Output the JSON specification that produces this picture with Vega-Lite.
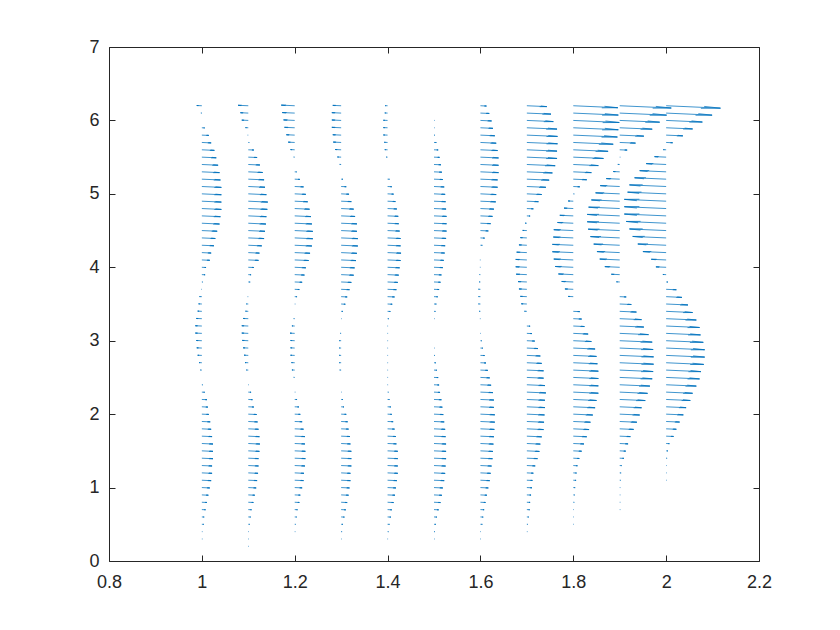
{
"$schema": "https://vega.github.io/schema/vega-lite/v6.json",
"width": 650, "height": 514,
"autosize": {"type": "none"},
"padding": {"left": 109, "top": 47, "right": 81, "bottom": 69},
"background": "white",
"config": {
 "view": {"stroke": "#262626", "strokeWidth": 1},
 "axis": {"domain": false, "grid": false, "tickColor": "#262626", "tickSize": -6, "tickWidth": 1, "labelFont": "Liberation Sans", "labelFontSize": 18, "labelColor": "#262626", "labelFlush": false, "labelOverlap": false, "title": null}
},
"data": {"values": [
{"x":1,"y":6.2,"u":-0.011,"v":0.003},{"x":1,"y":6.1,"u":-0.002,"v":0.001},{"x":1,"y":6,"u":0,"v":0},{"x":1,"y":5.9,"u":0.006,"v":-0.002},{"x":1,"y":5.8,"u":0.015,"v":-0.004},{"x":1,"y":5.7,"u":0.02,"v":-0.006},{"x":1,"y":5.6,"u":0.027,"v":-0.008},{"x":1,"y":5.5,"u":0.031,"v":-0.009},{"x":1,"y":5.4,"u":0.035,"v":-0.01},{"x":1,"y":5.3,"u":0.038,"v":-0.011},{"x":1,"y":5.2,"u":0.04,"v":-0.011},{"x":1,"y":5.1,"u":0.042,"v":-0.012},{"x":1,"y":5,"u":0.042,"v":-0.012},{"x":1,"y":4.9,"u":0.042,"v":-0.012},{"x":1,"y":4.8,"u":0.042,"v":-0.012},{"x":1,"y":4.7,"u":0.04,"v":-0.011},{"x":1,"y":4.6,"u":0.038,"v":-0.011},{"x":1,"y":4.5,"u":0.033,"v":-0.009},{"x":1,"y":4.4,"u":0.029,"v":-0.008},{"x":1,"y":4.3,"u":0.026,"v":-0.007},{"x":1,"y":4.2,"u":0.02,"v":-0.006},{"x":1,"y":4.1,"u":0.017,"v":-0.005},{"x":1,"y":4,"u":0.009,"v":-0.003},{"x":1,"y":3.9,"u":0.007,"v":-0.002},{"x":1,"y":3.8,"u":0.002,"v":-0.001},{"x":1,"y":3.7,"u":-0.001,"v":0},{"x":1,"y":3.6,"u":-0.005,"v":0.001},{"x":1,"y":3.5,"u":-0.007,"v":0.002},{"x":1,"y":3.4,"u":-0.009,"v":0.003},{"x":1,"y":3.3,"u":-0.012,"v":0.003},{"x":1,"y":3.2,"u":-0.014,"v":0.004},{"x":1,"y":3.1,"u":-0.014,"v":0.004},{"x":1,"y":3,"u":-0.012,"v":0.003},{"x":1,"y":2.9,"u":-0.011,"v":0.003},{"x":1,"y":2.8,"u":-0.009,"v":0.002},{"x":1,"y":2.7,"u":-0.006,"v":0.002},{"x":1,"y":2.6,"u":-0.003,"v":0.001},{"x":1,"y":2.5,"u":0,"v":0},{"x":1,"y":2.4,"u":0.002,"v":-0.001},{"x":1,"y":2.3,"u":0.006,"v":-0.002},{"x":1,"y":2.2,"u":0.011,"v":-0.003},{"x":1,"y":2.1,"u":0.013,"v":-0.004},{"x":1,"y":2,"u":0.015,"v":-0.004},{"x":1,"y":1.9,"u":0.018,"v":-0.005},{"x":1,"y":1.8,"u":0.02,"v":-0.006},{"x":1,"y":1.7,"u":0.022,"v":-0.006},{"x":1,"y":1.6,"u":0.024,"v":-0.007},{"x":1,"y":1.5,"u":0.024,"v":-0.007},{"x":1,"y":1.4,"u":0.024,"v":-0.007},{"x":1,"y":1.3,"u":0.022,"v":-0.006},{"x":1,"y":1.2,"u":0.022,"v":-0.006},{"x":1,"y":1.1,"u":0.02,"v":-0.006},{"x":1,"y":1,"u":0.017,"v":-0.005},{"x":1,"y":0.9,"u":0.014,"v":-0.004},{"x":1,"y":0.8,"u":0.011,"v":-0.003},{"x":1,"y":0.7,"u":0.008,"v":-0.002},{"x":1,"y":0.6,"u":0.005,"v":-0.001},{"x":1,"y":0.5,"u":0.004,"v":-0.001},{"x":1,"y":0.4,"u":0.001,"v":0},{"x":1,"y":0.3,"u":0.001,"v":0},{"x":1,"y":0.2,"u":0,"v":0},{"x":1,"y":0.1,"u":0,"v":0},{"x":1,"y":0,"u":0,"v":0},
{"x":1.1,"y":6.2,"u":-0.022,"v":0.006},{"x":1.1,"y":6.1,"u":-0.017,"v":0.005},{"x":1.1,"y":6,"u":-0.014,"v":0.004},{"x":1.1,"y":5.9,"u":-0.006,"v":0.002},{"x":1.1,"y":5.8,"u":-0.001,"v":0},{"x":1.1,"y":5.7,"u":0.002,"v":-0.001},{"x":1.1,"y":5.6,"u":0.012,"v":-0.003},{"x":1.1,"y":5.5,"u":0.019,"v":-0.005},{"x":1.1,"y":5.4,"u":0.025,"v":-0.007},{"x":1.1,"y":5.3,"u":0.031,"v":-0.009},{"x":1.1,"y":5.2,"u":0.034,"v":-0.009},{"x":1.1,"y":5.1,"u":0.036,"v":-0.01},{"x":1.1,"y":5,"u":0.039,"v":-0.011},{"x":1.1,"y":4.9,"u":0.042,"v":-0.012},{"x":1.1,"y":4.8,"u":0.041,"v":-0.011},{"x":1.1,"y":4.7,"u":0.039,"v":-0.011},{"x":1.1,"y":4.6,"u":0.038,"v":-0.011},{"x":1.1,"y":4.5,"u":0.036,"v":-0.01},{"x":1.1,"y":4.4,"u":0.034,"v":-0.009},{"x":1.1,"y":4.3,"u":0.029,"v":-0.008},{"x":1.1,"y":4.2,"u":0.024,"v":-0.007},{"x":1.1,"y":4.1,"u":0.022,"v":-0.006},{"x":1.1,"y":4,"u":0.012,"v":-0.003},{"x":1.1,"y":3.9,"u":0.006,"v":-0.002},{"x":1.1,"y":3.8,"u":0.004,"v":-0.001},{"x":1.1,"y":3.7,"u":0,"v":0},{"x":1.1,"y":3.6,"u":-0.001,"v":0},{"x":1.1,"y":3.5,"u":-0.004,"v":0.001},{"x":1.1,"y":3.4,"u":-0.006,"v":0.002},{"x":1.1,"y":3.3,"u":-0.011,"v":0.003},{"x":1.1,"y":3.2,"u":-0.014,"v":0.004},{"x":1.1,"y":3.1,"u":-0.014,"v":0.004},{"x":1.1,"y":3,"u":-0.013,"v":0.004},{"x":1.1,"y":2.9,"u":-0.011,"v":0.003},{"x":1.1,"y":2.8,"u":-0.009,"v":0.003},{"x":1.1,"y":2.7,"u":-0.007,"v":0.002},{"x":1.1,"y":2.6,"u":-0.004,"v":0.001},{"x":1.1,"y":2.5,"u":0,"v":0},{"x":1.1,"y":2.4,"u":0.001,"v":0},{"x":1.1,"y":2.3,"u":0.006,"v":-0.002},{"x":1.1,"y":2.2,"u":0.009,"v":-0.003},{"x":1.1,"y":2.1,"u":0.012,"v":-0.003},{"x":1.1,"y":2,"u":0.018,"v":-0.005},{"x":1.1,"y":1.9,"u":0.02,"v":-0.006},{"x":1.1,"y":1.8,"u":0.022,"v":-0.006},{"x":1.1,"y":1.7,"u":0.024,"v":-0.007},{"x":1.1,"y":1.6,"u":0.025,"v":-0.007},{"x":1.1,"y":1.5,"u":0.024,"v":-0.007},{"x":1.1,"y":1.4,"u":0.022,"v":-0.006},{"x":1.1,"y":1.3,"u":0.022,"v":-0.006},{"x":1.1,"y":1.2,"u":0.021,"v":-0.006},{"x":1.1,"y":1.1,"u":0.019,"v":-0.005},{"x":1.1,"y":1,"u":0.017,"v":-0.005},{"x":1.1,"y":0.9,"u":0.014,"v":-0.004},{"x":1.1,"y":0.8,"u":0.011,"v":-0.003},{"x":1.1,"y":0.7,"u":0.007,"v":-0.002},{"x":1.1,"y":0.6,"u":0.005,"v":-0.001},{"x":1.1,"y":0.5,"u":0.003,"v":-0.001},{"x":1.1,"y":0.4,"u":0.001,"v":0},{"x":1.1,"y":0.3,"u":0.001,"v":0},{"x":1.1,"y":0.2,"u":0.001,"v":0},{"x":1.1,"y":0.1,"u":0,"v":0},{"x":1.1,"y":0,"u":0,"v":0},
{"x":1.2,"y":6.2,"u":-0.029,"v":0.008},{"x":1.2,"y":6.1,"u":-0.027,"v":0.007},{"x":1.2,"y":6,"u":-0.024,"v":0.007},{"x":1.2,"y":5.9,"u":-0.022,"v":0.006},{"x":1.2,"y":5.8,"u":-0.018,"v":0.005},{"x":1.2,"y":5.7,"u":-0.014,"v":0.004},{"x":1.2,"y":5.6,"u":-0.009,"v":0.003},{"x":1.2,"y":5.5,"u":-0.002,"v":0.001},{"x":1.2,"y":5.4,"u":0,"v":0},{"x":1.2,"y":5.3,"u":0.004,"v":-0.001},{"x":1.2,"y":5.2,"u":0.011,"v":-0.003},{"x":1.2,"y":5.1,"u":0.019,"v":-0.005},{"x":1.2,"y":5,"u":0.024,"v":-0.007},{"x":1.2,"y":4.9,"u":0.028,"v":-0.008},{"x":1.2,"y":4.8,"u":0.032,"v":-0.009},{"x":1.2,"y":4.7,"u":0.035,"v":-0.01},{"x":1.2,"y":4.6,"u":0.037,"v":-0.01},{"x":1.2,"y":4.5,"u":0.039,"v":-0.011},{"x":1.2,"y":4.4,"u":0.039,"v":-0.011},{"x":1.2,"y":4.3,"u":0.037,"v":-0.01},{"x":1.2,"y":4.2,"u":0.033,"v":-0.009},{"x":1.2,"y":4.1,"u":0.03,"v":-0.008},{"x":1.2,"y":4,"u":0.024,"v":-0.007},{"x":1.2,"y":3.9,"u":0.021,"v":-0.006},{"x":1.2,"y":3.8,"u":0.016,"v":-0.004},{"x":1.2,"y":3.7,"u":0.01,"v":-0.003},{"x":1.2,"y":3.6,"u":0.005,"v":-0.001},{"x":1.2,"y":3.5,"u":0.001,"v":0},{"x":1.2,"y":3.4,"u":0,"v":0},{"x":1.2,"y":3.3,"u":-0.002,"v":0.001},{"x":1.2,"y":3.2,"u":-0.006,"v":0.002},{"x":1.2,"y":3.1,"u":-0.01,"v":0.003},{"x":1.2,"y":3,"u":-0.009,"v":0.003},{"x":1.2,"y":2.9,"u":-0.009,"v":0.003},{"x":1.2,"y":2.8,"u":-0.009,"v":0.002},{"x":1.2,"y":2.7,"u":-0.007,"v":0.002},{"x":1.2,"y":2.6,"u":-0.006,"v":0.002},{"x":1.2,"y":2.5,"u":-0.002,"v":0.001},{"x":1.2,"y":2.4,"u":0,"v":0},{"x":1.2,"y":2.3,"u":0.001,"v":0},{"x":1.2,"y":2.2,"u":0.005,"v":-0.001},{"x":1.2,"y":2.1,"u":0.009,"v":-0.002},{"x":1.2,"y":2,"u":0.012,"v":-0.003},{"x":1.2,"y":1.9,"u":0.016,"v":-0.004},{"x":1.2,"y":1.8,"u":0.019,"v":-0.005},{"x":1.2,"y":1.7,"u":0.022,"v":-0.006},{"x":1.2,"y":1.6,"u":0.022,"v":-0.006},{"x":1.2,"y":1.5,"u":0.023,"v":-0.006},{"x":1.2,"y":1.4,"u":0.023,"v":-0.006},{"x":1.2,"y":1.3,"u":0.022,"v":-0.006},{"x":1.2,"y":1.2,"u":0.02,"v":-0.006},{"x":1.2,"y":1.1,"u":0.019,"v":-0.005},{"x":1.2,"y":1,"u":0.016,"v":-0.004},{"x":1.2,"y":0.9,"u":0.012,"v":-0.003},{"x":1.2,"y":0.8,"u":0.01,"v":-0.003},{"x":1.2,"y":0.7,"u":0.006,"v":-0.002},{"x":1.2,"y":0.6,"u":0.004,"v":-0.001},{"x":1.2,"y":0.5,"u":0.002,"v":-0.001},{"x":1.2,"y":0.4,"u":0.001,"v":0},{"x":1.2,"y":0.3,"u":0,"v":0},{"x":1.2,"y":0.2,"u":0,"v":0},{"x":1.2,"y":0.1,"u":0,"v":0},{"x":1.2,"y":0,"u":0,"v":0},
{"x":1.3,"y":6.2,"u":-0.018,"v":0.005},{"x":1.3,"y":6.1,"u":-0.02,"v":0.006},{"x":1.3,"y":6,"u":-0.02,"v":0.006},{"x":1.3,"y":5.9,"u":-0.02,"v":0.006},{"x":1.3,"y":5.8,"u":-0.018,"v":0.005},{"x":1.3,"y":5.7,"u":-0.017,"v":0.005},{"x":1.3,"y":5.6,"u":-0.013,"v":0.004},{"x":1.3,"y":5.5,"u":-0.008,"v":0.002},{"x":1.3,"y":5.4,"u":-0.003,"v":0.001},{"x":1.3,"y":5.3,"u":0,"v":0},{"x":1.3,"y":5.2,"u":0.004,"v":-0.001},{"x":1.3,"y":5.1,"u":0.011,"v":-0.003},{"x":1.3,"y":5,"u":0.017,"v":-0.005},{"x":1.3,"y":4.9,"u":0.022,"v":-0.006},{"x":1.3,"y":4.8,"u":0.027,"v":-0.008},{"x":1.3,"y":4.7,"u":0.03,"v":-0.008},{"x":1.3,"y":4.6,"u":0.034,"v":-0.009},{"x":1.3,"y":4.5,"u":0.034,"v":-0.01},{"x":1.3,"y":4.4,"u":0.036,"v":-0.01},{"x":1.3,"y":4.3,"u":0.036,"v":-0.01},{"x":1.3,"y":4.2,"u":0.034,"v":-0.01},{"x":1.3,"y":4.1,"u":0.032,"v":-0.009},{"x":1.3,"y":4,"u":0.029,"v":-0.008},{"x":1.3,"y":3.9,"u":0.027,"v":-0.008},{"x":1.3,"y":3.8,"u":0.022,"v":-0.006},{"x":1.3,"y":3.7,"u":0.018,"v":-0.005},{"x":1.3,"y":3.6,"u":0.013,"v":-0.004},{"x":1.3,"y":3.5,"u":0.009,"v":-0.003},{"x":1.3,"y":3.4,"u":0.004,"v":-0.001},{"x":1.3,"y":3.3,"u":0.001,"v":0},{"x":1.3,"y":3.2,"u":0,"v":0},{"x":1.3,"y":3.1,"u":-0.002,"v":0.001},{"x":1.3,"y":3,"u":-0.004,"v":0.001},{"x":1.3,"y":2.9,"u":-0.004,"v":0.001},{"x":1.3,"y":2.8,"u":-0.004,"v":0.001},{"x":1.3,"y":2.7,"u":-0.004,"v":0.001},{"x":1.3,"y":2.6,"u":-0.003,"v":0.001},{"x":1.3,"y":2.5,"u":0,"v":0},{"x":1.3,"y":2.4,"u":0,"v":0},{"x":1.3,"y":2.3,"u":0.001,"v":0},{"x":1.3,"y":2.2,"u":0.004,"v":-0.001},{"x":1.3,"y":2.1,"u":0.006,"v":-0.002},{"x":1.3,"y":2,"u":0.011,"v":-0.003},{"x":1.3,"y":1.9,"u":0.014,"v":-0.004},{"x":1.3,"y":1.8,"u":0.016,"v":-0.004},{"x":1.3,"y":1.7,"u":0.019,"v":-0.005},{"x":1.3,"y":1.6,"u":0.02,"v":-0.006},{"x":1.3,"y":1.5,"u":0.022,"v":-0.006},{"x":1.3,"y":1.4,"u":0.022,"v":-0.006},{"x":1.3,"y":1.3,"u":0.022,"v":-0.006},{"x":1.3,"y":1.2,"u":0.02,"v":-0.006},{"x":1.3,"y":1.1,"u":0.02,"v":-0.006},{"x":1.3,"y":1,"u":0.018,"v":-0.005},{"x":1.3,"y":0.9,"u":0.016,"v":-0.004},{"x":1.3,"y":0.8,"u":0.013,"v":-0.004},{"x":1.3,"y":0.7,"u":0.01,"v":-0.003},{"x":1.3,"y":0.6,"u":0.007,"v":-0.002},{"x":1.3,"y":0.5,"u":0.004,"v":-0.001},{"x":1.3,"y":0.4,"u":0.002,"v":-0.001},{"x":1.3,"y":0.3,"u":0.001,"v":0},{"x":1.3,"y":0.2,"u":0,"v":0},{"x":1.3,"y":0.1,"u":0,"v":0},{"x":1.3,"y":0,"u":0,"v":0},
{"x":1.4,"y":6.2,"u":-0.005,"v":0.001},{"x":1.4,"y":6.1,"u":-0.006,"v":0.002},{"x":1.4,"y":6,"u":-0.009,"v":0.002},{"x":1.4,"y":5.9,"u":-0.009,"v":0.002},{"x":1.4,"y":5.8,"u":-0.009,"v":0.002},{"x":1.4,"y":5.7,"u":-0.007,"v":0.002},{"x":1.4,"y":5.6,"u":-0.006,"v":0.002},{"x":1.4,"y":5.5,"u":-0.003,"v":0.001},{"x":1.4,"y":5.4,"u":0,"v":0},{"x":1.4,"y":5.3,"u":0,"v":0},{"x":1.4,"y":5.2,"u":0.004,"v":-0.001},{"x":1.4,"y":5.1,"u":0.009,"v":-0.003},{"x":1.4,"y":5,"u":0.013,"v":-0.004},{"x":1.4,"y":4.9,"u":0.017,"v":-0.005},{"x":1.4,"y":4.8,"u":0.02,"v":-0.006},{"x":1.4,"y":4.7,"u":0.023,"v":-0.006},{"x":1.4,"y":4.6,"u":0.024,"v":-0.007},{"x":1.4,"y":4.5,"u":0.026,"v":-0.007},{"x":1.4,"y":4.4,"u":0.028,"v":-0.008},{"x":1.4,"y":4.3,"u":0.028,"v":-0.008},{"x":1.4,"y":4.2,"u":0.029,"v":-0.008},{"x":1.4,"y":4.1,"u":0.028,"v":-0.008},{"x":1.4,"y":4,"u":0.026,"v":-0.007},{"x":1.4,"y":3.9,"u":0.024,"v":-0.007},{"x":1.4,"y":3.8,"u":0.022,"v":-0.006},{"x":1.4,"y":3.7,"u":0.019,"v":-0.005},{"x":1.4,"y":3.6,"u":0.015,"v":-0.004},{"x":1.4,"y":3.5,"u":0.01,"v":-0.003},{"x":1.4,"y":3.4,"u":0.006,"v":-0.002},{"x":1.4,"y":3.3,"u":0.003,"v":-0.001},{"x":1.4,"y":3.2,"u":0.001,"v":0},{"x":1.4,"y":3.1,"u":0.001,"v":0},{"x":1.4,"y":3,"u":0.001,"v":0},{"x":1.4,"y":2.9,"u":0.001,"v":0},{"x":1.4,"y":2.8,"u":0.001,"v":0},{"x":1.4,"y":2.7,"u":0.001,"v":0},{"x":1.4,"y":2.6,"u":0.001,"v":0},{"x":1.4,"y":2.5,"u":0.001,"v":0},{"x":1.4,"y":2.4,"u":0.001,"v":0},{"x":1.4,"y":2.3,"u":0.002,"v":-0.001},{"x":1.4,"y":2.2,"u":0.004,"v":-0.001},{"x":1.4,"y":2.1,"u":0.007,"v":-0.002},{"x":1.4,"y":2,"u":0.009,"v":-0.003},{"x":1.4,"y":1.9,"u":0.012,"v":-0.003},{"x":1.4,"y":1.8,"u":0.015,"v":-0.004},{"x":1.4,"y":1.7,"u":0.018,"v":-0.005},{"x":1.4,"y":1.6,"u":0.019,"v":-0.005},{"x":1.4,"y":1.5,"u":0.022,"v":-0.006},{"x":1.4,"y":1.4,"u":0.022,"v":-0.006},{"x":1.4,"y":1.3,"u":0.022,"v":-0.006},{"x":1.4,"y":1.2,"u":0.022,"v":-0.006},{"x":1.4,"y":1.1,"u":0.02,"v":-0.006},{"x":1.4,"y":1,"u":0.018,"v":-0.005},{"x":1.4,"y":0.9,"u":0.016,"v":-0.004},{"x":1.4,"y":0.8,"u":0.013,"v":-0.004},{"x":1.4,"y":0.7,"u":0.009,"v":-0.003},{"x":1.4,"y":0.6,"u":0.007,"v":-0.002},{"x":1.4,"y":0.5,"u":0.004,"v":-0.001},{"x":1.4,"y":0.4,"u":0.002,"v":-0.001},{"x":1.4,"y":0.3,"u":0.001,"v":0},{"x":1.4,"y":0.2,"u":0,"v":0},{"x":1.4,"y":0.1,"u":0,"v":0},{"x":1.4,"y":0,"u":0,"v":0},
{"x":1.5,"y":6.2,"u":0,"v":0},{"x":1.5,"y":6.1,"u":0,"v":0},{"x":1.5,"y":6,"u":0.001,"v":0},{"x":1.5,"y":5.9,"u":0.001,"v":0},{"x":1.5,"y":5.8,"u":0.002,"v":-0.001},{"x":1.5,"y":5.7,"u":0.005,"v":-0.001},{"x":1.5,"y":5.6,"u":0.009,"v":-0.002},{"x":1.5,"y":5.5,"u":0.012,"v":-0.003},{"x":1.5,"y":5.4,"u":0.015,"v":-0.004},{"x":1.5,"y":5.3,"u":0.017,"v":-0.005},{"x":1.5,"y":5.2,"u":0.019,"v":-0.005},{"x":1.5,"y":5.1,"u":0.022,"v":-0.006},{"x":1.5,"y":5,"u":0.024,"v":-0.007},{"x":1.5,"y":4.9,"u":0.025,"v":-0.007},{"x":1.5,"y":4.8,"u":0.026,"v":-0.007},{"x":1.5,"y":4.7,"u":0.027,"v":-0.007},{"x":1.5,"y":4.6,"u":0.027,"v":-0.007},{"x":1.5,"y":4.5,"u":0.027,"v":-0.007},{"x":1.5,"y":4.4,"u":0.026,"v":-0.007},{"x":1.5,"y":4.3,"u":0.024,"v":-0.007},{"x":1.5,"y":4.2,"u":0.023,"v":-0.006},{"x":1.5,"y":4.1,"u":0.021,"v":-0.006},{"x":1.5,"y":4,"u":0.019,"v":-0.005},{"x":1.5,"y":3.9,"u":0.016,"v":-0.004},{"x":1.5,"y":3.8,"u":0.014,"v":-0.004},{"x":1.5,"y":3.7,"u":0.011,"v":-0.003},{"x":1.5,"y":3.6,"u":0.008,"v":-0.002},{"x":1.5,"y":3.5,"u":0.005,"v":-0.001},{"x":1.5,"y":3.4,"u":0.003,"v":-0.001},{"x":1.5,"y":3.3,"u":0.001,"v":0},{"x":1.5,"y":3.2,"u":0,"v":0},{"x":1.5,"y":3.1,"u":0,"v":0},{"x":1.5,"y":3,"u":0,"v":0},{"x":1.5,"y":2.9,"u":0.001,"v":0},{"x":1.5,"y":2.8,"u":0.002,"v":-0.001},{"x":1.5,"y":2.7,"u":0.004,"v":-0.001},{"x":1.5,"y":2.6,"u":0.006,"v":-0.002},{"x":1.5,"y":2.5,"u":0.009,"v":-0.002},{"x":1.5,"y":2.4,"u":0.011,"v":-0.003},{"x":1.5,"y":2.3,"u":0.013,"v":-0.004},{"x":1.5,"y":2.2,"u":0.016,"v":-0.004},{"x":1.5,"y":2.1,"u":0.018,"v":-0.005},{"x":1.5,"y":2,"u":0.02,"v":-0.006},{"x":1.5,"y":1.9,"u":0.022,"v":-0.006},{"x":1.5,"y":1.8,"u":0.024,"v":-0.007},{"x":1.5,"y":1.7,"u":0.025,"v":-0.007},{"x":1.5,"y":1.6,"u":0.026,"v":-0.007},{"x":1.5,"y":1.5,"u":0.026,"v":-0.007},{"x":1.5,"y":1.4,"u":0.026,"v":-0.007},{"x":1.5,"y":1.3,"u":0.025,"v":-0.007},{"x":1.5,"y":1.2,"u":0.024,"v":-0.007},{"x":1.5,"y":1.1,"u":0.022,"v":-0.006},{"x":1.5,"y":1,"u":0.019,"v":-0.005},{"x":1.5,"y":0.9,"u":0.017,"v":-0.005},{"x":1.5,"y":0.8,"u":0.014,"v":-0.004},{"x":1.5,"y":0.7,"u":0.01,"v":-0.003},{"x":1.5,"y":0.6,"u":0.006,"v":-0.002},{"x":1.5,"y":0.5,"u":0.004,"v":-0.001},{"x":1.5,"y":0.4,"u":0.002,"v":-0.001},{"x":1.5,"y":0.3,"u":0.001,"v":0},{"x":1.5,"y":0.2,"u":0,"v":0},{"x":1.5,"y":0.1,"u":0,"v":0},{"x":1.5,"y":0,"u":0,"v":0},
{"x":1.6,"y":6.2,"u":0.013,"v":-0.004},{"x":1.6,"y":6.1,"u":0.019,"v":-0.005},{"x":1.6,"y":6,"u":0.024,"v":-0.007},{"x":1.6,"y":5.9,"u":0.027,"v":-0.008},{"x":1.6,"y":5.8,"u":0.031,"v":-0.009},{"x":1.6,"y":5.7,"u":0.034,"v":-0.01},{"x":1.6,"y":5.6,"u":0.037,"v":-0.01},{"x":1.6,"y":5.5,"u":0.039,"v":-0.011},{"x":1.6,"y":5.4,"u":0.039,"v":-0.011},{"x":1.6,"y":5.3,"u":0.039,"v":-0.011},{"x":1.6,"y":5.2,"u":0.037,"v":-0.01},{"x":1.6,"y":5.1,"u":0.037,"v":-0.01},{"x":1.6,"y":5,"u":0.034,"v":-0.01},{"x":1.6,"y":4.9,"u":0.033,"v":-0.009},{"x":1.6,"y":4.8,"u":0.029,"v":-0.008},{"x":1.6,"y":4.7,"u":0.026,"v":-0.007},{"x":1.6,"y":4.6,"u":0.022,"v":-0.006},{"x":1.6,"y":4.5,"u":0.017,"v":-0.005},{"x":1.6,"y":4.4,"u":0.009,"v":-0.003},{"x":1.6,"y":4.3,"u":0.004,"v":-0.001},{"x":1.6,"y":4.2,"u":0,"v":0},{"x":1.6,"y":4.1,"u":-0.001,"v":0},{"x":1.6,"y":4,"u":-0.001,"v":0},{"x":1.6,"y":3.9,"u":-0.002,"v":0.001},{"x":1.6,"y":3.8,"u":-0.003,"v":0.001},{"x":1.6,"y":3.7,"u":-0.004,"v":0.001},{"x":1.6,"y":3.6,"u":-0.004,"v":0.001},{"x":1.6,"y":3.5,"u":-0.004,"v":0.001},{"x":1.6,"y":3.4,"u":-0.003,"v":0.001},{"x":1.6,"y":3.3,"u":-0.001,"v":0},{"x":1.6,"y":3.2,"u":0,"v":0},{"x":1.6,"y":3.1,"u":0.001,"v":0},{"x":1.6,"y":3,"u":0.003,"v":-0.001},{"x":1.6,"y":2.9,"u":0.005,"v":-0.001},{"x":1.6,"y":2.8,"u":0.009,"v":-0.002},{"x":1.6,"y":2.7,"u":0.012,"v":-0.003},{"x":1.6,"y":2.6,"u":0.016,"v":-0.004},{"x":1.6,"y":2.5,"u":0.02,"v":-0.006},{"x":1.6,"y":2.4,"u":0.023,"v":-0.006},{"x":1.6,"y":2.3,"u":0.027,"v":-0.007},{"x":1.6,"y":2.2,"u":0.029,"v":-0.008},{"x":1.6,"y":2.1,"u":0.029,"v":-0.008},{"x":1.6,"y":2,"u":0.031,"v":-0.009},{"x":1.6,"y":1.9,"u":0.031,"v":-0.009},{"x":1.6,"y":1.8,"u":0.03,"v":-0.008},{"x":1.6,"y":1.7,"u":0.029,"v":-0.008},{"x":1.6,"y":1.6,"u":0.028,"v":-0.008},{"x":1.6,"y":1.5,"u":0.027,"v":-0.008},{"x":1.6,"y":1.4,"u":0.026,"v":-0.007},{"x":1.6,"y":1.3,"u":0.024,"v":-0.007},{"x":1.6,"y":1.2,"u":0.022,"v":-0.006},{"x":1.6,"y":1.1,"u":0.02,"v":-0.006},{"x":1.6,"y":1,"u":0.017,"v":-0.005},{"x":1.6,"y":0.9,"u":0.014,"v":-0.004},{"x":1.6,"y":0.8,"u":0.011,"v":-0.003},{"x":1.6,"y":0.7,"u":0.008,"v":-0.002},{"x":1.6,"y":0.6,"u":0.006,"v":-0.002},{"x":1.6,"y":0.5,"u":0.004,"v":-0.001},{"x":1.6,"y":0.4,"u":0.001,"v":0},{"x":1.6,"y":0.3,"u":0.001,"v":0},{"x":1.6,"y":0.2,"u":0,"v":0},{"x":1.6,"y":0.1,"u":0,"v":0},{"x":1.6,"y":0,"u":0,"v":0},
{"x":1.7,"y":6.2,"u":0.043,"v":-0.012},{"x":1.7,"y":6.1,"u":0.052,"v":-0.014},{"x":1.7,"y":6,"u":0.057,"v":-0.016},{"x":1.7,"y":5.9,"u":0.065,"v":-0.018},{"x":1.7,"y":5.8,"u":0.066,"v":-0.018},{"x":1.7,"y":5.7,"u":0.066,"v":-0.018},{"x":1.7,"y":5.6,"u":0.065,"v":-0.018},{"x":1.7,"y":5.5,"u":0.065,"v":-0.018},{"x":1.7,"y":5.4,"u":0.061,"v":-0.017},{"x":1.7,"y":5.3,"u":0.055,"v":-0.015},{"x":1.7,"y":5.2,"u":0.048,"v":-0.013},{"x":1.7,"y":5.1,"u":0.041,"v":-0.011},{"x":1.7,"y":5,"u":0.032,"v":-0.009},{"x":1.7,"y":4.9,"u":0.025,"v":-0.007},{"x":1.7,"y":4.8,"u":0.014,"v":-0.004},{"x":1.7,"y":4.7,"u":0.007,"v":-0.002},{"x":1.7,"y":4.6,"u":-0.004,"v":0.001},{"x":1.7,"y":4.5,"u":-0.009,"v":0.002},{"x":1.7,"y":4.4,"u":-0.014,"v":0.004},{"x":1.7,"y":4.3,"u":-0.017,"v":0.005},{"x":1.7,"y":4.2,"u":-0.022,"v":0.006},{"x":1.7,"y":4.1,"u":-0.024,"v":0.007},{"x":1.7,"y":4,"u":-0.024,"v":0.007},{"x":1.7,"y":3.9,"u":-0.023,"v":0.006},{"x":1.7,"y":3.8,"u":-0.019,"v":0.005},{"x":1.7,"y":3.7,"u":-0.017,"v":0.005},{"x":1.7,"y":3.6,"u":-0.014,"v":0.004},{"x":1.7,"y":3.5,"u":-0.012,"v":0.003},{"x":1.7,"y":3.4,"u":-0.005,"v":0.001},{"x":1.7,"y":3.3,"u":0,"v":0},{"x":1.7,"y":3.2,"u":0.007,"v":-0.002},{"x":1.7,"y":3.1,"u":0.011,"v":-0.003},{"x":1.7,"y":3,"u":0.017,"v":-0.005},{"x":1.7,"y":2.9,"u":0.024,"v":-0.007},{"x":1.7,"y":2.8,"u":0.029,"v":-0.008},{"x":1.7,"y":2.7,"u":0.032,"v":-0.009},{"x":1.7,"y":2.6,"u":0.036,"v":-0.01},{"x":1.7,"y":2.5,"u":0.036,"v":-0.01},{"x":1.7,"y":2.4,"u":0.039,"v":-0.011},{"x":1.7,"y":2.3,"u":0.041,"v":-0.011},{"x":1.7,"y":2.2,"u":0.039,"v":-0.011},{"x":1.7,"y":2.1,"u":0.039,"v":-0.011},{"x":1.7,"y":2,"u":0.038,"v":-0.011},{"x":1.7,"y":1.9,"u":0.037,"v":-0.01},{"x":1.7,"y":1.8,"u":0.036,"v":-0.01},{"x":1.7,"y":1.7,"u":0.032,"v":-0.009},{"x":1.7,"y":1.6,"u":0.029,"v":-0.008},{"x":1.7,"y":1.5,"u":0.027,"v":-0.008},{"x":1.7,"y":1.4,"u":0.023,"v":-0.006},{"x":1.7,"y":1.3,"u":0.018,"v":-0.005},{"x":1.7,"y":1.2,"u":0.014,"v":-0.004},{"x":1.7,"y":1.1,"u":0.012,"v":-0.003},{"x":1.7,"y":1,"u":0.011,"v":-0.003},{"x":1.7,"y":0.9,"u":0.009,"v":-0.002},{"x":1.7,"y":0.8,"u":0.007,"v":-0.002},{"x":1.7,"y":0.7,"u":0.006,"v":-0.002},{"x":1.7,"y":0.6,"u":0.004,"v":-0.001},{"x":1.7,"y":0.5,"u":0.002,"v":-0.001},{"x":1.7,"y":0.4,"u":0.001,"v":0},{"x":1.7,"y":0.3,"u":0,"v":0},{"x":1.7,"y":0.2,"u":0,"v":0},{"x":1.7,"y":0.1,"u":0,"v":0},{"x":1.7,"y":0,"u":0,"v":0},
{"x":1.8,"y":6.2,"u":0.096,"v":-0.027},{"x":1.8,"y":6.1,"u":0.097,"v":-0.027},{"x":1.8,"y":6,"u":0.099,"v":-0.028},{"x":1.8,"y":5.9,"u":0.097,"v":-0.027},{"x":1.8,"y":5.8,"u":0.095,"v":-0.026},{"x":1.8,"y":5.7,"u":0.086,"v":-0.024},{"x":1.8,"y":5.6,"u":0.075,"v":-0.021},{"x":1.8,"y":5.5,"u":0.065,"v":-0.018},{"x":1.8,"y":5.4,"u":0.054,"v":-0.015},{"x":1.8,"y":5.3,"u":0.039,"v":-0.011},{"x":1.8,"y":5.2,"u":0.029,"v":-0.008},{"x":1.8,"y":5.1,"u":0.014,"v":-0.004},{"x":1.8,"y":5,"u":0.002,"v":-0.001},{"x":1.8,"y":4.9,"u":-0.011,"v":0.003},{"x":1.8,"y":4.8,"u":-0.02,"v":0.006},{"x":1.8,"y":4.7,"u":-0.029,"v":0.008},{"x":1.8,"y":4.6,"u":-0.034,"v":0.01},{"x":1.8,"y":4.5,"u":-0.042,"v":0.012},{"x":1.8,"y":4.4,"u":-0.043,"v":0.012},{"x":1.8,"y":4.3,"u":-0.045,"v":0.012},{"x":1.8,"y":4.2,"u":-0.045,"v":0.012},{"x":1.8,"y":4.1,"u":-0.042,"v":0.012},{"x":1.8,"y":4,"u":-0.039,"v":0.011},{"x":1.8,"y":3.9,"u":-0.032,"v":0.009},{"x":1.8,"y":3.8,"u":-0.025,"v":0.007},{"x":1.8,"y":3.7,"u":-0.018,"v":0.005},{"x":1.8,"y":3.6,"u":-0.011,"v":0.003},{"x":1.8,"y":3.5,"u":0,"v":0},{"x":1.8,"y":3.4,"u":0.014,"v":-0.004},{"x":1.8,"y":3.3,"u":0.018,"v":-0.005},{"x":1.8,"y":3.2,"u":0.024,"v":-0.007},{"x":1.8,"y":3.1,"u":0.032,"v":-0.009},{"x":1.8,"y":3,"u":0.039,"v":-0.011},{"x":1.8,"y":2.9,"u":0.047,"v":-0.013},{"x":1.8,"y":2.8,"u":0.05,"v":-0.014},{"x":1.8,"y":2.7,"u":0.052,"v":-0.014},{"x":1.8,"y":2.6,"u":0.054,"v":-0.015},{"x":1.8,"y":2.5,"u":0.054,"v":-0.015},{"x":1.8,"y":2.4,"u":0.054,"v":-0.015},{"x":1.8,"y":2.3,"u":0.054,"v":-0.015},{"x":1.8,"y":2.2,"u":0.05,"v":-0.014},{"x":1.8,"y":2.1,"u":0.047,"v":-0.013},{"x":1.8,"y":2,"u":0.042,"v":-0.012},{"x":1.8,"y":1.9,"u":0.037,"v":-0.01},{"x":1.8,"y":1.8,"u":0.034,"v":-0.01},{"x":1.8,"y":1.7,"u":0.029,"v":-0.008},{"x":1.8,"y":1.6,"u":0.023,"v":-0.006},{"x":1.8,"y":1.5,"u":0.018,"v":-0.005},{"x":1.8,"y":1.4,"u":0.013,"v":-0.004},{"x":1.8,"y":1.3,"u":0.009,"v":-0.003},{"x":1.8,"y":1.2,"u":0.007,"v":-0.002},{"x":1.8,"y":1.1,"u":0.006,"v":-0.002},{"x":1.8,"y":1,"u":0.004,"v":-0.001},{"x":1.8,"y":0.9,"u":0.003,"v":-0.001},{"x":1.8,"y":0.8,"u":0.002,"v":-0.001},{"x":1.8,"y":0.7,"u":0.001,"v":0},{"x":1.8,"y":0.6,"u":0.001,"v":0},{"x":1.8,"y":0.5,"u":0.001,"v":0},{"x":1.8,"y":0.4,"u":0,"v":0},{"x":1.8,"y":0.3,"u":0,"v":0},{"x":1.8,"y":0.2,"u":0,"v":0},{"x":1.8,"y":0.1,"u":0,"v":0},{"x":1.8,"y":0,"u":0,"v":0},
{"x":1.9,"y":6.2,"u":0.111,"v":-0.031},{"x":1.9,"y":6.1,"u":0.101,"v":-0.028},{"x":1.9,"y":6,"u":0.086,"v":-0.024},{"x":1.9,"y":5.9,"u":0.07,"v":-0.019},{"x":1.9,"y":5.8,"u":0.052,"v":-0.014},{"x":1.9,"y":5.7,"u":0.034,"v":-0.009},{"x":1.9,"y":5.6,"u":0.016,"v":-0.004},{"x":1.9,"y":5.5,"u":0.001,"v":0},{"x":1.9,"y":5.4,"u":-0.004,"v":0.001},{"x":1.9,"y":5.3,"u":-0.014,"v":0.004},{"x":1.9,"y":5.2,"u":-0.029,"v":0.008},{"x":1.9,"y":5.1,"u":-0.042,"v":0.012},{"x":1.9,"y":5,"u":-0.052,"v":0.014},{"x":1.9,"y":4.9,"u":-0.061,"v":0.017},{"x":1.9,"y":4.8,"u":-0.067,"v":0.019},{"x":1.9,"y":4.7,"u":-0.07,"v":0.02},{"x":1.9,"y":4.6,"u":-0.07,"v":0.02},{"x":1.9,"y":4.5,"u":-0.068,"v":0.019},{"x":1.9,"y":4.4,"u":-0.063,"v":0.018},{"x":1.9,"y":4.3,"u":-0.056,"v":0.016},{"x":1.9,"y":4.2,"u":-0.049,"v":0.014},{"x":1.9,"y":4.1,"u":-0.043,"v":0.012},{"x":1.9,"y":4,"u":-0.032,"v":0.009},{"x":1.9,"y":3.9,"u":-0.018,"v":0.005},{"x":1.9,"y":3.8,"u":-0.007,"v":0.002},{"x":1.9,"y":3.7,"u":0,"v":0},{"x":1.9,"y":3.6,"u":0.014,"v":-0.004},{"x":1.9,"y":3.5,"u":0.025,"v":-0.007},{"x":1.9,"y":3.4,"u":0.036,"v":-0.01},{"x":1.9,"y":3.3,"u":0.047,"v":-0.013},{"x":1.9,"y":3.2,"u":0.052,"v":-0.014},{"x":1.9,"y":3.1,"u":0.062,"v":-0.017},{"x":1.9,"y":3,"u":0.07,"v":-0.019},{"x":1.9,"y":2.9,"u":0.072,"v":-0.02},{"x":1.9,"y":2.8,"u":0.073,"v":-0.02},{"x":1.9,"y":2.7,"u":0.073,"v":-0.02},{"x":1.9,"y":2.6,"u":0.072,"v":-0.02},{"x":1.9,"y":2.5,"u":0.07,"v":-0.019},{"x":1.9,"y":2.4,"u":0.065,"v":-0.018},{"x":1.9,"y":2.3,"u":0.06,"v":-0.017},{"x":1.9,"y":2.2,"u":0.055,"v":-0.015},{"x":1.9,"y":2.1,"u":0.047,"v":-0.013},{"x":1.9,"y":2,"u":0.043,"v":-0.012},{"x":1.9,"y":1.9,"u":0.037,"v":-0.01},{"x":1.9,"y":1.8,"u":0.03,"v":-0.008},{"x":1.9,"y":1.7,"u":0.023,"v":-0.006},{"x":1.9,"y":1.6,"u":0.018,"v":-0.005},{"x":1.9,"y":1.5,"u":0.013,"v":-0.004},{"x":1.9,"y":1.4,"u":0.009,"v":-0.002},{"x":1.9,"y":1.3,"u":0.004,"v":-0.001},{"x":1.9,"y":1.2,"u":0.003,"v":-0.001},{"x":1.9,"y":1.1,"u":0.002,"v":-0.001},{"x":1.9,"y":1,"u":0.001,"v":0},{"x":1.9,"y":0.9,"u":0.001,"v":0},{"x":1.9,"y":0.8,"u":0.001,"v":0},{"x":1.9,"y":0.7,"u":0.001,"v":0},{"x":1.9,"y":0.6,"u":0,"v":0},{"x":1.9,"y":0.5,"u":0,"v":0},{"x":1.9,"y":0.4,"u":0,"v":0},{"x":1.9,"y":0.3,"u":0,"v":0},{"x":1.9,"y":0.2,"u":0,"v":0},{"x":1.9,"y":0.1,"u":0,"v":0},{"x":1.9,"y":0,"u":0,"v":0},
{"x":2,"y":6.2,"u":0.117,"v":-0.033},{"x":2,"y":6.1,"u":0.099,"v":-0.028},{"x":2,"y":6,"u":0.078,"v":-0.022},{"x":2,"y":5.9,"u":0.057,"v":-0.016},{"x":2,"y":5.8,"u":0.036,"v":-0.01},{"x":2,"y":5.7,"u":0.014,"v":-0.004},{"x":2,"y":5.6,"u":-0.006,"v":0.002},{"x":2,"y":5.5,"u":-0.025,"v":0.007},{"x":2,"y":5.4,"u":-0.043,"v":0.012},{"x":2,"y":5.3,"u":-0.057,"v":0.016},{"x":2,"y":5.2,"u":-0.068,"v":0.019},{"x":2,"y":5.1,"u":-0.079,"v":0.022},{"x":2,"y":5,"u":-0.083,"v":0.023},{"x":2,"y":4.9,"u":-0.09,"v":0.025},{"x":2,"y":4.8,"u":-0.09,"v":0.025},{"x":2,"y":4.7,"u":-0.09,"v":0.025},{"x":2,"y":4.6,"u":-0.086,"v":0.024},{"x":2,"y":4.5,"u":-0.079,"v":0.022},{"x":2,"y":4.4,"u":-0.072,"v":0.02},{"x":2,"y":4.3,"u":-0.061,"v":0.017},{"x":2,"y":4.2,"u":-0.05,"v":0.014},{"x":2,"y":4.1,"u":-0.032,"v":0.009},{"x":2,"y":4,"u":-0.022,"v":0.006},{"x":2,"y":3.9,"u":-0.007,"v":0.002},{"x":2,"y":3.8,"u":0.004,"v":-0.001},{"x":2,"y":3.7,"u":0.022,"v":-0.006},{"x":2,"y":3.6,"u":0.034,"v":-0.01},{"x":2,"y":3.5,"u":0.047,"v":-0.013},{"x":2,"y":3.4,"u":0.057,"v":-0.016},{"x":2,"y":3.3,"u":0.065,"v":-0.018},{"x":2,"y":3.2,"u":0.072,"v":-0.02},{"x":2,"y":3.1,"u":0.074,"v":-0.021},{"x":2,"y":3,"u":0.08,"v":-0.022},{"x":2,"y":2.9,"u":0.083,"v":-0.023},{"x":2,"y":2.8,"u":0.083,"v":-0.023},{"x":2,"y":2.7,"u":0.081,"v":-0.023},{"x":2,"y":2.6,"u":0.075,"v":-0.021},{"x":2,"y":2.5,"u":0.072,"v":-0.02},{"x":2,"y":2.4,"u":0.065,"v":-0.018},{"x":2,"y":2.3,"u":0.057,"v":-0.016},{"x":2,"y":2.2,"u":0.052,"v":-0.014},{"x":2,"y":2.1,"u":0.043,"v":-0.012},{"x":2,"y":2,"u":0.037,"v":-0.01},{"x":2,"y":1.9,"u":0.029,"v":-0.008},{"x":2,"y":1.8,"u":0.022,"v":-0.006},{"x":2,"y":1.7,"u":0.016,"v":-0.004},{"x":2,"y":1.6,"u":0.007,"v":-0.002},{"x":2,"y":1.5,"u":0.004,"v":-0.001},{"x":2,"y":1.4,"u":0.002,"v":-0.001},{"x":2,"y":1.3,"u":0.001,"v":0},{"x":2,"y":1.2,"u":0.001,"v":0},{"x":2,"y":1.1,"u":0.001,"v":0},{"x":2,"y":1,"u":0,"v":0},{"x":2,"y":0.9,"u":0,"v":0},{"x":2,"y":0.8,"u":0,"v":0},{"x":2,"y":0.7,"u":0,"v":0},{"x":2,"y":0.6,"u":0,"v":0},{"x":2,"y":0.5,"u":0,"v":0},{"x":2,"y":0.4,"u":0,"v":0},{"x":2,"y":0.3,"u":0,"v":0},{"x":2,"y":0.2,"u":0,"v":0},{"x":2,"y":0.1,"u":0,"v":0},{"x":2,"y":0,"u":0,"v":0}
]},
"transform": [
 {"calculate": "datum.x + datum.u", "as": "xe"},
 {"calculate": "datum.y + datum.v", "as": "ye"},
 {"calculate": "datum.x + 0.67*datum.u - 0.109*datum.v", "as": "h1x"},
 {"calculate": "datum.y + 0.67*datum.v + 0.109*datum.u", "as": "h1y"},
 {"calculate": "datum.x + 0.67*datum.u + 0.109*datum.v", "as": "h2x"},
 {"calculate": "datum.y + 0.67*datum.v - 0.109*datum.u", "as": "h2y"}
],
"layer": [
 {"mark": {"type": "rule", "color": "#0072BD", "strokeWidth": 0.75},
  "encoding": {
   "x": {"field": "x", "type": "quantitative", "scale": {"domain": [0.8, 2.2], "nice": false, "zero": false},
         "axis": {"orient": "bottom", "values": [0.8,1,1.2,1.4,1.6,1.8,2,2.2], "labelExpr": "format(datum.value, '~g')", "labelPadding": 18}},
   "y": {"field": "y", "type": "quantitative", "scale": {"domain": [0, 7], "nice": false, "zero": false},
         "axis": {"orient": "left", "values": [0,1,2,3,4,5,6,7], "labelPadding": 16}},
   "x2": {"field": "xe"}, "y2": {"field": "ye"}}},
 {"mark": {"type": "rule", "color": "#0072BD", "strokeWidth": 0.75},
  "encoding": {
   "x": {"field": "xe", "type": "quantitative", "axis": {"orient": "top", "values": [0.8,1,1.2,1.4,1.6,1.8,2,2.2], "labels": false}},
   "y": {"field": "ye", "type": "quantitative", "axis": {"orient": "right", "values": [0,1,2,3,4,5,6,7], "labels": false}},
   "x2": {"field": "h1x"}, "y2": {"field": "h1y"}}},
 {"mark": {"type": "rule", "color": "#0072BD", "strokeWidth": 0.75},
  "encoding": {
   "x": {"field": "xe", "type": "quantitative", "axis": null},
   "y": {"field": "ye", "type": "quantitative", "axis": null},
   "x2": {"field": "h2x"}, "y2": {"field": "h2y"}}}
],
"resolve": {"axis": {"x": "independent", "y": "independent"}}
}
